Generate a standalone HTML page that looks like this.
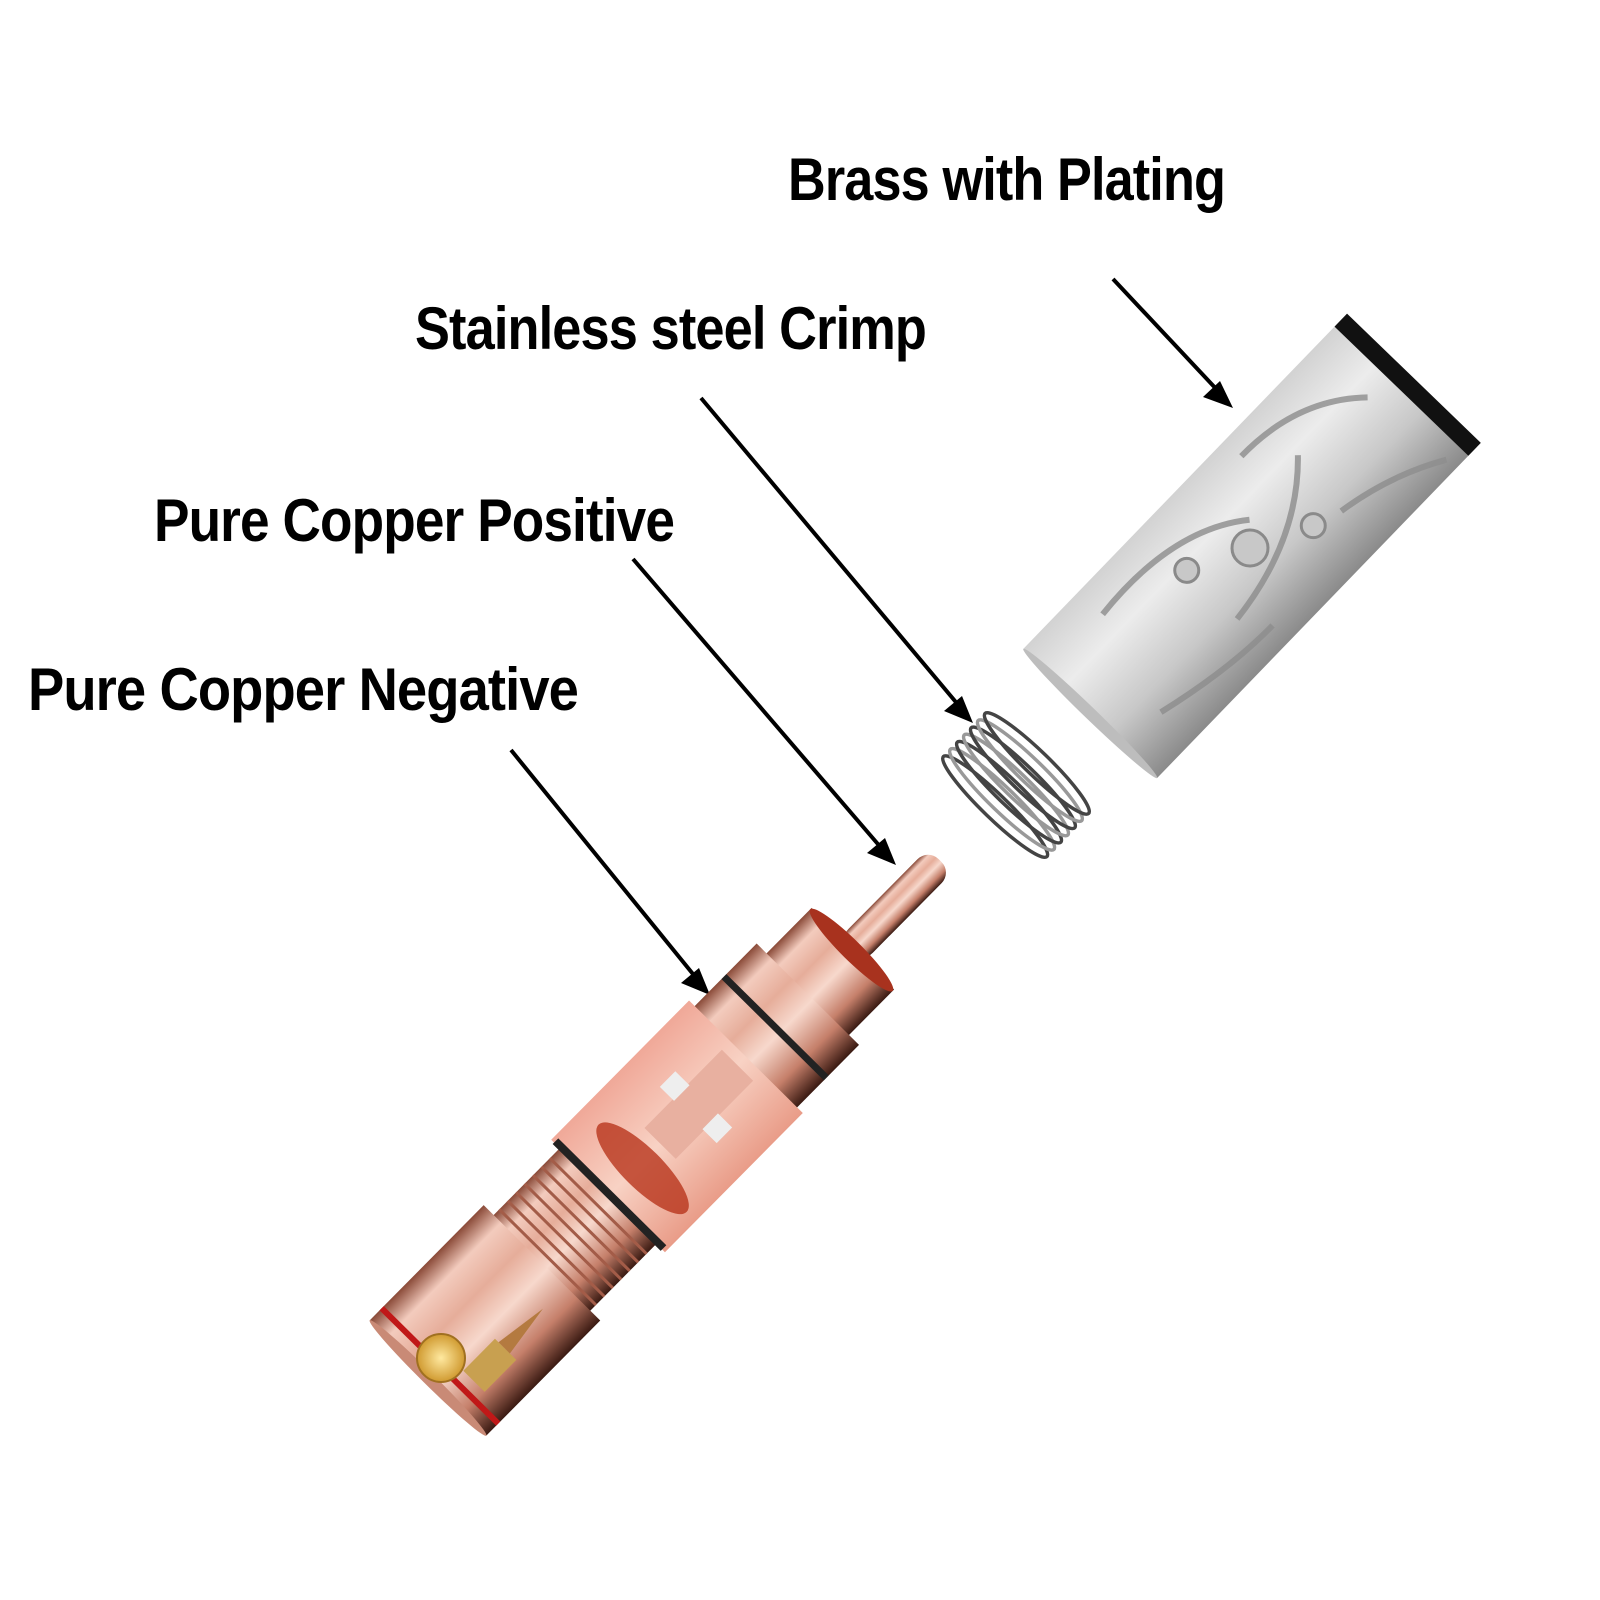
<!DOCTYPE html>
<html><head><meta charset="utf-8"><style>
html,body{margin:0;padding:0;background:#fff;}
svg{display:block;}
text{font-family:"Liberation Sans Narrow","Liberation Sans",sans-serif;fill:#000;letter-spacing:-1px;font-weight:bold;}
</style></head><body>
<svg width="1600" height="1600" viewBox="0 0 1600 1600" xmlns="http://www.w3.org/2000/svg">
<defs>
<linearGradient id="cu" x1="0" y1="0" x2="0" y2="1">
<stop offset="0" stop-color="#8a4a38"/><stop offset="0.15" stop-color="#f3cbbd"/><stop offset="0.35" stop-color="#e6ad9a"/><stop offset="0.55" stop-color="#f7d8cc"/><stop offset="0.8" stop-color="#c57f6a"/><stop offset="1" stop-color="#3a1a12"/>
</linearGradient>
<linearGradient id="cut" x1="0" y1="0" x2="0" y2="1">
<stop offset="0" stop-color="#f0a898"/><stop offset="0.5" stop-color="#f8d2c4"/><stop offset="1" stop-color="#e99c88"/>
</linearGradient>
<linearGradient id="ag" x1="0" y1="0" x2="0" y2="1">
<stop offset="0" stop-color="#d2d2d2"/><stop offset="0.3" stop-color="#ececec"/><stop offset="0.65" stop-color="#c8c8c8"/><stop offset="1" stop-color="#8a8a8a"/>
</linearGradient>
<radialGradient id="au"><stop offset="0" stop-color="#ffe9a0"/><stop offset="1" stop-color="#d09a30"/></radialGradient>
</defs>

<text x="788" y="200" font-size="60" textLength="437" lengthAdjust="spacingAndGlyphs">Brass with Plating</text>
<text x="415" y="349" font-size="60" textLength="511" lengthAdjust="spacingAndGlyphs">Stainless steel Crimp</text>
<text x="154" y="541" font-size="60" textLength="520" lengthAdjust="spacingAndGlyphs">Pure Copper Positive</text>
<text x="28" y="710" font-size="60" textLength="550" lengthAdjust="spacingAndGlyphs">Pure Copper Negative</text>

<g stroke="#000" stroke-width="4" fill="#000">
<line x1="1113" y1="279" x2="1220" y2="393"/><polygon points="1233,408 1203,397 1220,381" stroke="none"/>
<line x1="701" y1="398" x2="960" y2="707"/><polygon points="973,723 944,711 962,696" stroke="none"/>
<line x1="633" y1="559" x2="883" y2="850"/><polygon points="896,865 867,853 885,838" stroke="none"/>
<line x1="511" y1="750" x2="697" y2="979"/><polygon points="710,995 681,983 699,968" stroke="none"/>
</g>

<!-- sleeve -->
<g transform="translate(1250,548) rotate(-46)">
<rect x="-230" y="-93" width="460" height="186" fill="url(#ag)"/>
<polygon points="218,-93 236,-93 236,93 218,93" fill="#111"/>
<ellipse cx="-230" cy="0" rx="6" ry="93" fill="#bdbdbd"/>
<g fill="none" stroke="#8d8d8d" stroke-width="6" opacity="0.8">
<path d="M-150,-60 Q-40,-70 20,-20"/><path d="M-60,40 Q40,30 100,-30"/>
<path d="M60,-70 Q140,-70 190,-20"/><path d="M-180,50 Q-100,70 -40,70"/>
<path d="M90,40 Q150,50 200,80"/>
</g>
<circle cx="0" cy="0" r="18" fill="#c8c8c8" stroke="#8a8a8a" stroke-width="3"/>
<circle cx="-60" cy="-30" r="12" fill="#c8c8c8" stroke="#8a8a8a" stroke-width="3"/>
<circle cx="60" cy="30" r="12" fill="#c8c8c8" stroke="#8a8a8a" stroke-width="3"/>
</g>

<!-- spring -->
<g transform="translate(1016,785) rotate(-46)" fill="none" stroke="#444" stroke-width="3.5">
<ellipse cx="-30" cy="0" rx="12" ry="72"/><ellipse cx="-20" cy="0" rx="12" ry="72" stroke="#999"/>
<ellipse cx="-10" cy="0" rx="12" ry="72"/><ellipse cx="0" cy="0" rx="12" ry="72" stroke="#999"/>
<ellipse cx="10" cy="0" rx="12" ry="72"/><ellipse cx="20" cy="0" rx="12" ry="72" stroke="#999"/>
<ellipse cx="30" cy="0" rx="12" ry="72"/>
</g>

<!-- copper plug -->
<g transform="translate(428,1378) rotate(-45.3)">
<rect x="600" y="-17" width="128" height="34" rx="15" fill="url(#cu)"/>
<rect x="538" y="-58" width="66" height="116" fill="url(#cu)"/>
<ellipse cx="602" cy="0" rx="10" ry="58" fill="#a8321e"/>
<rect x="448" y="-72" width="92" height="144" fill="url(#cu)"/>
<rect x="490" y="-72" width="7" height="144" fill="#222"/>
<rect x="256" y="-80" width="196" height="160" fill="url(#cut)"/>
<ellipse cx="300" cy="5" rx="20" ry="62" fill="#b8341c" opacity="0.8"/>
<rect x="330" y="-22" width="110" height="44" fill="#e8b0a0"/>
<rect x="370" y="-40" width="22" height="20" fill="#eee"/><rect x="370" y="20" width="22" height="20" fill="#eee"/>
<rect x="160" y="-68" width="100" height="136" fill="url(#cu)"/>
<g stroke="#a35c48" stroke-width="3"><line x1="170" y1="-68" x2="170" y2="68"/><line x1="182" y1="-68" x2="182" y2="68"/><line x1="194" y1="-68" x2="194" y2="68"/><line x1="206" y1="-68" x2="206" y2="68"/><line x1="218" y1="-68" x2="218" y2="68"/><line x1="230" y1="-68" x2="230" y2="68"/><line x1="242" y1="-68" x2="242" y2="68"/></g>
<rect x="254" y="-76" width="8" height="152" fill="#222"/>
<rect x="0" y="-82" width="162" height="164" fill="url(#cu)"/>
<rect x="14" y="-82" width="6" height="164" fill="#c01818"/>
<ellipse cx="0" cy="0" rx="6" ry="82" fill="#c98a76"/>
<rect x="30" y="20" width="45" height="30" fill="#c8a050"/>
<polygon points="75,25 130,33 75,41" fill="#b47a40"/>
</g>
<circle cx="441" cy="1358" r="24" fill="url(#au)" stroke="#a07020" stroke-width="2"/>
</svg>
</body></html>
